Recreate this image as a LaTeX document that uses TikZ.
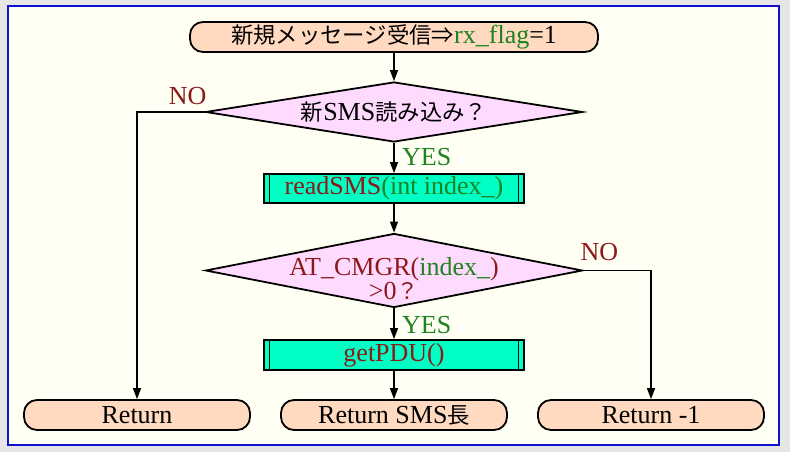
\documentclass[tikz,border=0pt]{standalone}
\usepackage{fontspec}
\setmainfont{Liberation Serif}
\newfontfamily\cjk{Noto Sans CJK JP}[Scale=0.86]
\usetikzlibrary{arrows.meta,shapes.geometric}
\definecolor{outerbg}{HTML}{E6E6E6}
\definecolor{innerbg}{HTML}{FFFFF4}
\definecolor{frameblue}{HTML}{1010D0}
\definecolor{termfill}{HTML}{FFDAC0}
\definecolor{decfill}{HTML}{FFDAFF}
\definecolor{procfill}{HTML}{00FFC4}
\definecolor{dred}{RGB}{140,25,25}
\definecolor{dgreen}{RGB}{30,130,30}
\begin{document}
\begin{tikzpicture}[x=1pt,y=1pt,
  font=\fontsize{26}{24}\selectfont,
  term/.style={draw, line width=1.8pt, fill=termfill, rounded corners=13pt,
    minimum height=30pt, inner sep=0pt},
  decision/.style={draw, shape=diamond, line width=1.8pt, fill=decfill,
    inner sep=0pt, minimum width=377pt},
  procbox/.style={draw, rectangle, line width=1.8pt, fill=procfill,
    minimum width=260pt, minimum height=29pt, inner sep=0pt},
  conn/.style={line width=1.3pt, -{Triangle[length=11pt,width=8pt]}},
  yeslbl/.style={text=dgreen, inner sep=0pt, anchor=base west},
  nolbl/.style={text=dred, inner sep=0pt}
]
% background and frame
\fill[outerbg] (0,0) rectangle (790,452);
\draw[frameblue, line width=2pt, fill=innerbg] (8,7) rectangle (779,446);

% nodes
\node[term, minimum width=408pt] (start) at (394,415)
  {{\cjk 新規メッセージ受信⇒}\textcolor{dgreen}{rx\_flag}=1};
\node[decision, minimum height=60pt,
  label={[inner sep=0pt]center:{\cjk 新}SMS{\cjk 読み込み？}}] (d1) at (394,340) {};
\node[procbox] (rs) at (394,263.5)
  {\textcolor{dred}{readSMS}\textcolor{dgreen}{(int index\_)}};
\node[decision, minimum height=74pt,
  label={[inner sep=0pt, align=center, yshift=-8pt]center:{\textcolor{dred}{AT\_CMGR(}\textcolor{dgreen}{index\_}\textcolor{dred}{)}\\\textcolor{dred}{>0{\cjk ？}}}}] (d2) at (394,181.5) {};
\node[procbox, minimum height=30pt] (gp) at (394,97)
  {\textcolor{dred}{getPDU()}};
\node[term, minimum width=226pt] (r1) at (137,37) {Return};
\node[term, minimum width=226pt] (r2) at (394,37) {Return SMS{\cjk 長}};
\node[term, minimum width=226pt] (r3) at (651,37) {Return -1};

% double side lines of the predefined-process boxes
\foreach \n in {rs,gp}{
  \draw[line width=1.3pt] ([xshift=6.5pt]\n.north west) -- ([xshift=6.5pt]\n.south west);
  \draw[line width=1.3pt] ([xshift=-6.5pt]\n.north east) -- ([xshift=-6.5pt]\n.south east);
}

% connectors
\draw[conn] (start) -- (d1);
\draw[conn] (d1) -- (rs);
\draw[conn] (rs) -- (d2);
\draw[conn] (d2) -- (gp);
\draw[conn] (gp) -- (r2);
\draw[conn] (d1.west) -| (r1.north);
\draw[conn] (d2.east) -| (r3.north);

% labels
\node[yeslbl] (y1) at ([xshift=8pt,yshift=-23pt]d1.south) {YES};
\node[yeslbl] (y2) at ([xshift=8pt,yshift=-25pt]d2.south) {YES};
\node[nolbl, anchor=base east] (n1) at ([xshift=2pt,yshift=7pt]d1.west) {NO};
\node[nolbl, anchor=base west] (n2) at ([xshift=-3pt,yshift=10pt]d2.east) {NO};
\end{tikzpicture}
\end{document}
